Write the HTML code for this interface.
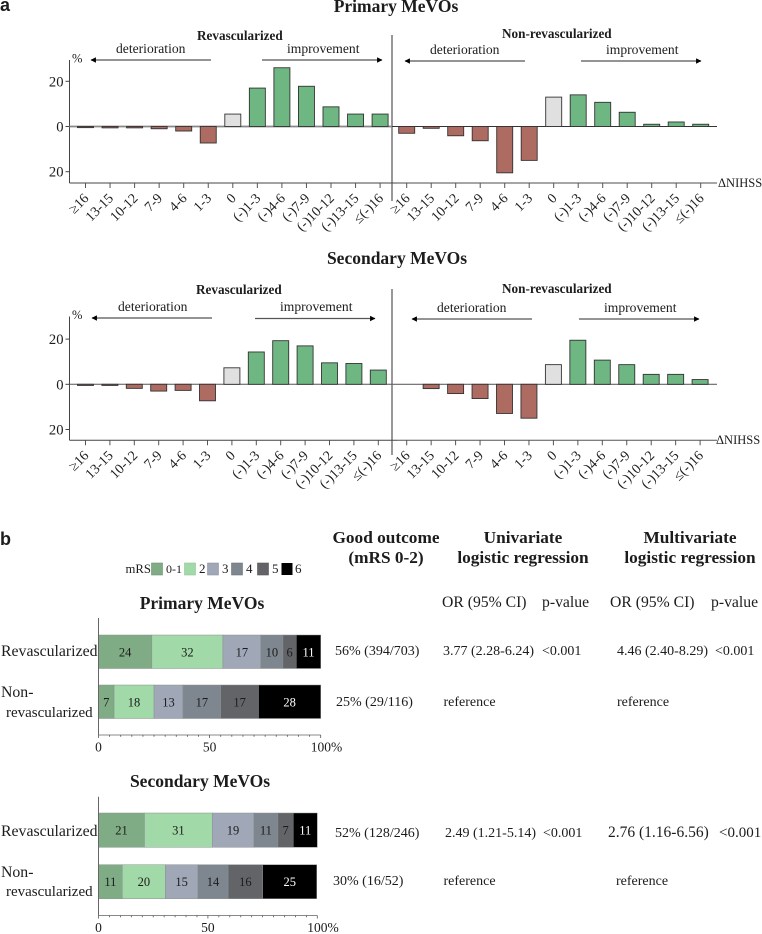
<!DOCTYPE html>
<html lang="en">
<head>
<meta charset="utf-8">
<title>Primary and Secondary MeVOs</title>
<style>
html,body{margin:0;padding:0;background:#fff;}
svg{display:block;font-family:"Liberation Serif",serif;fill:#1c1c1c;}
.h{font-weight:bold;}
.ttl{font-size:17.5px;font-weight:bold;text-anchor:middle;}
.sub{font-size:13.2px;font-weight:bold;}
.dir{font-size:13.6px;}
.tb{font-size:14px;}
.hd{font-size:17.3px;font-weight:bold;text-anchor:middle;}
.cl{font-size:15.7px;}
.row{font-size:15.8px;}
.leg{font-size:13px;}
</style>
</head>
<body>
<svg id="fig" xmlns="http://www.w3.org/2000/svg" width="762" height="934" viewBox="0 0 762 934">
<defs>
<marker id="ah" viewBox="0 0 10 10" refX="9" refY="5" markerWidth="5.5" markerHeight="5.5" markerUnits="userSpaceOnUse" orient="auto"><path d="M0 0L10 5L0 10z" fill="#000"/></marker>
</defs>
<rect width="762" height="934" fill="#fff"/>

<text x="0" y="11" style="font:bold 18px 'Liberation Sans',sans-serif">a</text>
<text x="0" y="545" style="font:bold 18px 'Liberation Sans',sans-serif">b</text>

<text class="ttl" x="396" y="12">Primary MeVOs</text>
<text class="ttl" x="397" y="264">Secondary MeVOs</text>

<text class="sub" x="197" y="40">Revascularized</text>
<text class="sub" x="502" y="38">Non-revascularized</text>
<text class="sub" x="196" y="294">Revascularized</text>
<text class="sub" x="502" y="293">Non-revascularized</text>

<text class="dir" x="116" y="53">deterioration</text>
<text class="dir" x="287" y="53">improvement</text>
<text class="dir" x="430" y="54">deterioration</text>
<text class="dir" x="606" y="54">improvement</text>
<text class="dir" x="118" y="311">deterioration</text>
<text class="dir" x="280" y="311">improvement</text>
<text class="dir" x="437" y="312">deterioration</text>
<text class="dir" x="604" y="312">improvement</text>

<g fill="none" stroke="#555" stroke-width="1.2" marker-end="url(#ah)">
<line x1="211" y1="60" x2="91" y2="60"/>
<line x1="262" y1="60" x2="382" y2="60"/>
<line x1="525" y1="61" x2="405" y2="61"/>
<line x1="581" y1="61" x2="701" y2="61"/>
<line x1="212" y1="318" x2="92" y2="318"/>
<line x1="255" y1="318.5" x2="375" y2="318.5"/>
<line x1="532" y1="319" x2="412" y2="319"/>
<line x1="579" y1="319" x2="699" y2="319"/>
</g>

<line x1="392" y1="35" x2="392" y2="201" stroke="#777" stroke-width="1.5"/>
<line x1="392" y1="289" x2="392" y2="455" stroke="#777" stroke-width="1.5"/>

<g id="chartA"></g>

<text x="718" y="187" style="font-size:12.5px">ΔNIHSS</text>
<text x="716" y="444" style="font-size:12.5px">ΔNIHSS</text>

<g class="leg">
<text x="125.5" y="573" style="font-size:12.7px">mRS</text>
<rect x="151.5" y="563" width="11" height="12" fill="#7fac85" stroke="#6a9570" stroke-width=".6"/>
<text x="166" y="573" style="font-size:12px">0-1</text>
<rect x="184.5" y="563" width="11" height="12" fill="#a2d9a8" stroke="#8fc596" stroke-width=".6"/>
<text x="199" y="573">2</text>
<rect x="207.5" y="563" width="11" height="12" fill="#a0a8b8" stroke="#8d95a3" stroke-width=".6"/>
<text x="222" y="573">3</text>
<rect x="231.5" y="563" width="11" height="12" fill="#7e8690" stroke="#6f767e" stroke-width=".6"/>
<text x="246" y="573">4</text>
<rect x="257.5" y="563" width="11" height="12" fill="#626468" stroke="#55575a" stroke-width=".6"/>
<text x="272" y="573">5</text>
<rect x="281.5" y="563" width="11" height="12" fill="#000"/>
<text x="295" y="573">6</text>
</g>

<text class="ttl" x="202" y="609">Primary MeVOs</text>
<text class="ttl" x="200" y="787">Secondary MeVOs</text>

<g id="chartB"></g>

<text class="row" x="1" y="656">Revascularized</text>
<text class="row" x="1" y="697">Non-</text>
<text class="row" x="6" y="717" style="font-size:15px">revascularized</text>
<text class="row" x="1" y="836">Revascularized</text>
<text class="row" x="1" y="877">Non-</text>
<text class="row" x="6" y="896" style="font-size:15px">revascularized</text>

<text class="hd" x="386" y="543">Good outcome</text>
<text class="hd" x="386" y="563">(mRS 0-2)</text>
<text class="hd" x="523" y="543">Univariate</text>
<text class="hd" x="523" y="563">logistic regression</text>
<text class="hd" x="690" y="543">Multivariate</text>
<text class="hd" x="690" y="563">logistic regression</text>

<text class="cl" x="442" y="607">OR (95% CI)</text>
<text class="cl" x="542" y="607">p-value</text>
<text class="cl" x="610" y="607">OR (95% CI)</text>
<text class="cl" x="711" y="607">p-value</text>

<g class="tb">
<text x="335" y="655">56% (394/703)</text>
<text x="443" y="655">3.77 (2.28-6.24)</text>
<text x="542" y="655">&lt;0.001</text>
<text x="617" y="655">4.46 (2.40-8.29)</text>
<text x="715" y="655">&lt;0.001</text>
<text x="336" y="706">25% (29/116)</text>
<text x="443.500" y="706">reference</text>
<text x="617" y="706">reference</text>
<text x="335" y="837">52% (128/246)</text>
<text x="445" y="837">2.49 (1.21-5.14)</text>
<text x="543" y="837">&lt;0.001</text>
<text x="608" y="837" style="font-size:15.5px">2.76 (1.16-6.56)</text>
<text x="719" y="837" style="font-size:15px">&lt;0.001</text>
<text x="333" y="885">30% (16/52)</text>
<text x="443.500" y="885">reference</text>
<text x="616" y="885">reference</text>
</g>
</svg>

<script>
// Panel a data
var nihssCategories = ['≥16','13-15','10-12','7-9','4-6','1-3','0','(-)1-3','(-)4-6','(-)7-9','(-)10-12','(-)13-15','≤(-)16'];
var primaryRevascularized = [-0.5,-0.6,-0.6,-1,-2,-7.3,5.5,17,26,17.8,8.7,5.5,5.5];
var primaryNonRevascularized = [-3,-0.8,-4.1,-6.3,-20.5,-15,13,14,10.7,6.3,1,2,1];
var secondaryRevascularized = [-0.5,-0.5,-1.8,-3,-2.7,-7.3,7.3,14.3,19.3,17,9.5,9.2,6.3];
var secondaryNonRevascularized = [0,-1.9,-4.1,-6.3,-12.9,-15,8.7,19.5,10.7,8.7,4.4,4.4,2.1];
var yTickValues = [20,0,-20];
var yTickLabels = ['20','0','20'];

// Panel b data
var mrsColors = ['#7fac85','#a2d9a8','#a0a8b8','#7e8690','#626468','#000000'];
var primaryMrsRevascularized = [24,32,17,10,6,11];
var primaryMrsNonRevascularized = [7,18,13,17,17,28];
var secondaryMrsRevascularized = [21,31,19,11,7,11];
var secondaryMrsNonRevascularized = [11,20,15,14,16,25];
var percentTickValues = [0,50,100];
var percentTickLabels = ['0','50','100%'];

var NS = 'http://www.w3.org/2000/svg';
function mk(tag, parent, props, text) {
  var el = document.createElementNS(NS, tag);
  for (var k in props) { el.setAttribute(k, props[k]); }
  if (text !== undefined) { el.textContent = text; }
  parent.appendChild(el);
  return el;
}

var chartA = document.getElementById('chartA');
var chartB = document.getElementById('chartB');

function drawAxisFrame(o) {
  var g = mk('g', chartA, {});
  
  
  function y(v) { return o.zero - v * 2.26; }
  var yAxis = mk('line', g, {x1:69.5, x2:69.5, y1:o.top, y2:o.bottom, stroke:'#444', 'stroke-width':1});
  
  
  yTickValues.forEach(function (v, i) {
    var tick = mk('line', g, {x1:65.5, x2:69.5, y1:y(v), y2:y(v), stroke:'#444', 'stroke-width':1});
    
    
    var lab = mk('text', g, {x:63.5, y:y(v) + 5, 'text-anchor':'end', style:'font-size:14.6px'}, yTickLabels[i]);
    
    
  });
  var pct = mk('text', g, {x:72, y:o.top + 2.5, style:'font-size:12.5px'}, '%');
  
  
  var baseL = mk('line', g, {x1:69.5, x2:397, y1:o.bottom, y2:o.bottom, stroke:'#444', 'stroke-width':1});
  
  
  var baseR = mk('line', g, {x1:397, x2:717, y1:o.bottom, y2:o.bottom, stroke:o.rightAxis, 'stroke-width':o.rightAxisW});
  
  
  var zeroL = mk('line', g, {x1:69.5, x2:392, y1:o.zero, y2:o.zero, stroke:o.zeroLeft, 'stroke-width':o.zeroLeftW});
  
  
  var zeroR = mk('line', g, {x1:392, x2:717, y1:o.zero, y2:o.zero, stroke:o.zeroRight, 'stroke-width':o.zeroRightW});
  
  
}

function drawSeries(values, o) {
  var g = mk('g', chartA, {});
  
  
  function x(i) { return o.x0 + i * o.step; }
  function y(v) { return o.zero - v * 2.26; }
  values.forEach(function (v, i) {
    if (v !== 0) {
      var fill = i < 6 ? '#ad6b62' : (i === 6 ? '#e0e0e0' : '#6fb782');
      var bar = mk('rect', g, {x:x(i) - 8, y:Math.min(y(v), y(0)), width:16, height:Math.abs(y(v) - y(0)), fill:fill, stroke:'#333', 'stroke-width':0.9});
      
      
    }
    var tick = mk('line', g, {x1:x(i), x2:x(i), y1:o.bottom, y2:o.bottom + 5, stroke:'#555', 'stroke-width':1});
    
    
    var tx = x(i) + 4, ty = o.bottom + 16;
    var lab = mk('text', g, {x:tx, y:ty, 'text-anchor':'end', transform:'rotate(-45 ' + tx + ' ' + ty + ')', style:'font-size:14px'}, nihssCategories[i]);
    
    
  });
}

drawAxisFrame({zero:126.5, top:60, bottom:183, rightAxis:'#888', rightAxisW:1.5, zeroLeft:'#888', zeroLeftW:1.8, zeroRight:'#333', zeroRightW:1});
drawAxisFrame({zero:384.3, top:316.5, bottom:440.3, rightAxis:'#555', rightAxisW:1, zeroLeft:'#555', zeroLeftW:1, zeroRight:'#666', zeroRightW:1.2});
drawSeries(primaryRevascularized, {x0:85.5, step:24.55, zero:126.5, bottom:183});
drawSeries(primaryNonRevascularized, {x0:406.7, step:24.5, zero:126.5, bottom:183});
drawSeries(secondaryRevascularized, {x0:85.5, step:24.4, zero:384.3, bottom:440.3});
drawSeries(secondaryNonRevascularized, {x0:406.7, step:24.45, zero:384.3, bottom:440.3});

function drawStack(values, o) {
  var total = values.reduce(function (a, b) { return a + b; }, 0);
  function x(v) { return 98.5 + (v / total) * o.width; }
  var g = mk('g', chartB, {});
  
  
  var cum = 0;
  values.forEach(function (v, i) {
    var seg = mk('rect', g, {x:x(cum), y:o.y, width:x(cum + v) - x(cum), height:o.h, fill:mrsColors[i], stroke:'#8a8f90', 'stroke-width':0.5});
    
    
    var lab = mk('text', g, {x:(x(cum) + x(cum + v)) / 2, y:o.y + o.h / 2 + 4.5, 'text-anchor':'middle', style:'font-size:12.5px', fill:i === 5 ? '#fff' : '#1c1c1c'}, String(v));
    
    
    cum += v;
  });
}

function drawPercentAxis(o) {
  var g = mk('g', chartB, {});
  
  
  function x(v) { return 98.5 + (v / 100) * o.width; }
  var yAxis = mk('line', g, {x1:98.5, x2:98.5, y1:o.top, y2:o.axis, stroke:'#666', 'stroke-width':1});
  
  
  var xAxis = mk('line', g, {x1:98.5, x2:x(100), y1:o.axis, y2:o.axis, stroke:'#888', 'stroke-width':1});
  
  
  for (var t = 0; t <= 100; t += 5) {
    var major = t % 50 === 0;
    var tick = mk('line', g, {x1:x(t), x2:x(t), y1:o.axis, y2:o.axis + (major ? 3 : 1.8), stroke:'#555', 'stroke-width':0.8});
    
    
  }
  percentTickValues.forEach(function (v, i) {
    var last = i === percentTickLabels.length - 1;
    var lab = mk('text', g, {x:last ? x(v) - 10 : x(v), y:o.axis + 16.5, 'text-anchor':last ? 'start' : 'middle', style:'font-size:13.5px'}, percentTickLabels[i]);
    
    
  });
}

drawStack(primaryMrsRevascularized, {y:635, h:33.5, width:222.2});
drawStack(primaryMrsNonRevascularized, {y:685, h:33.5, width:222.2});
drawStack(secondaryMrsRevascularized, {y:813, h:34.3, width:218.8});
drawStack(secondaryMrsNonRevascularized, {y:864.7, h:34, width:218.2});
drawPercentAxis({top:618, axis:735, width:222.2});
drawPercentAxis({top:796.7, axis:915.5, width:218.8});
</script>
</body>
</html>
